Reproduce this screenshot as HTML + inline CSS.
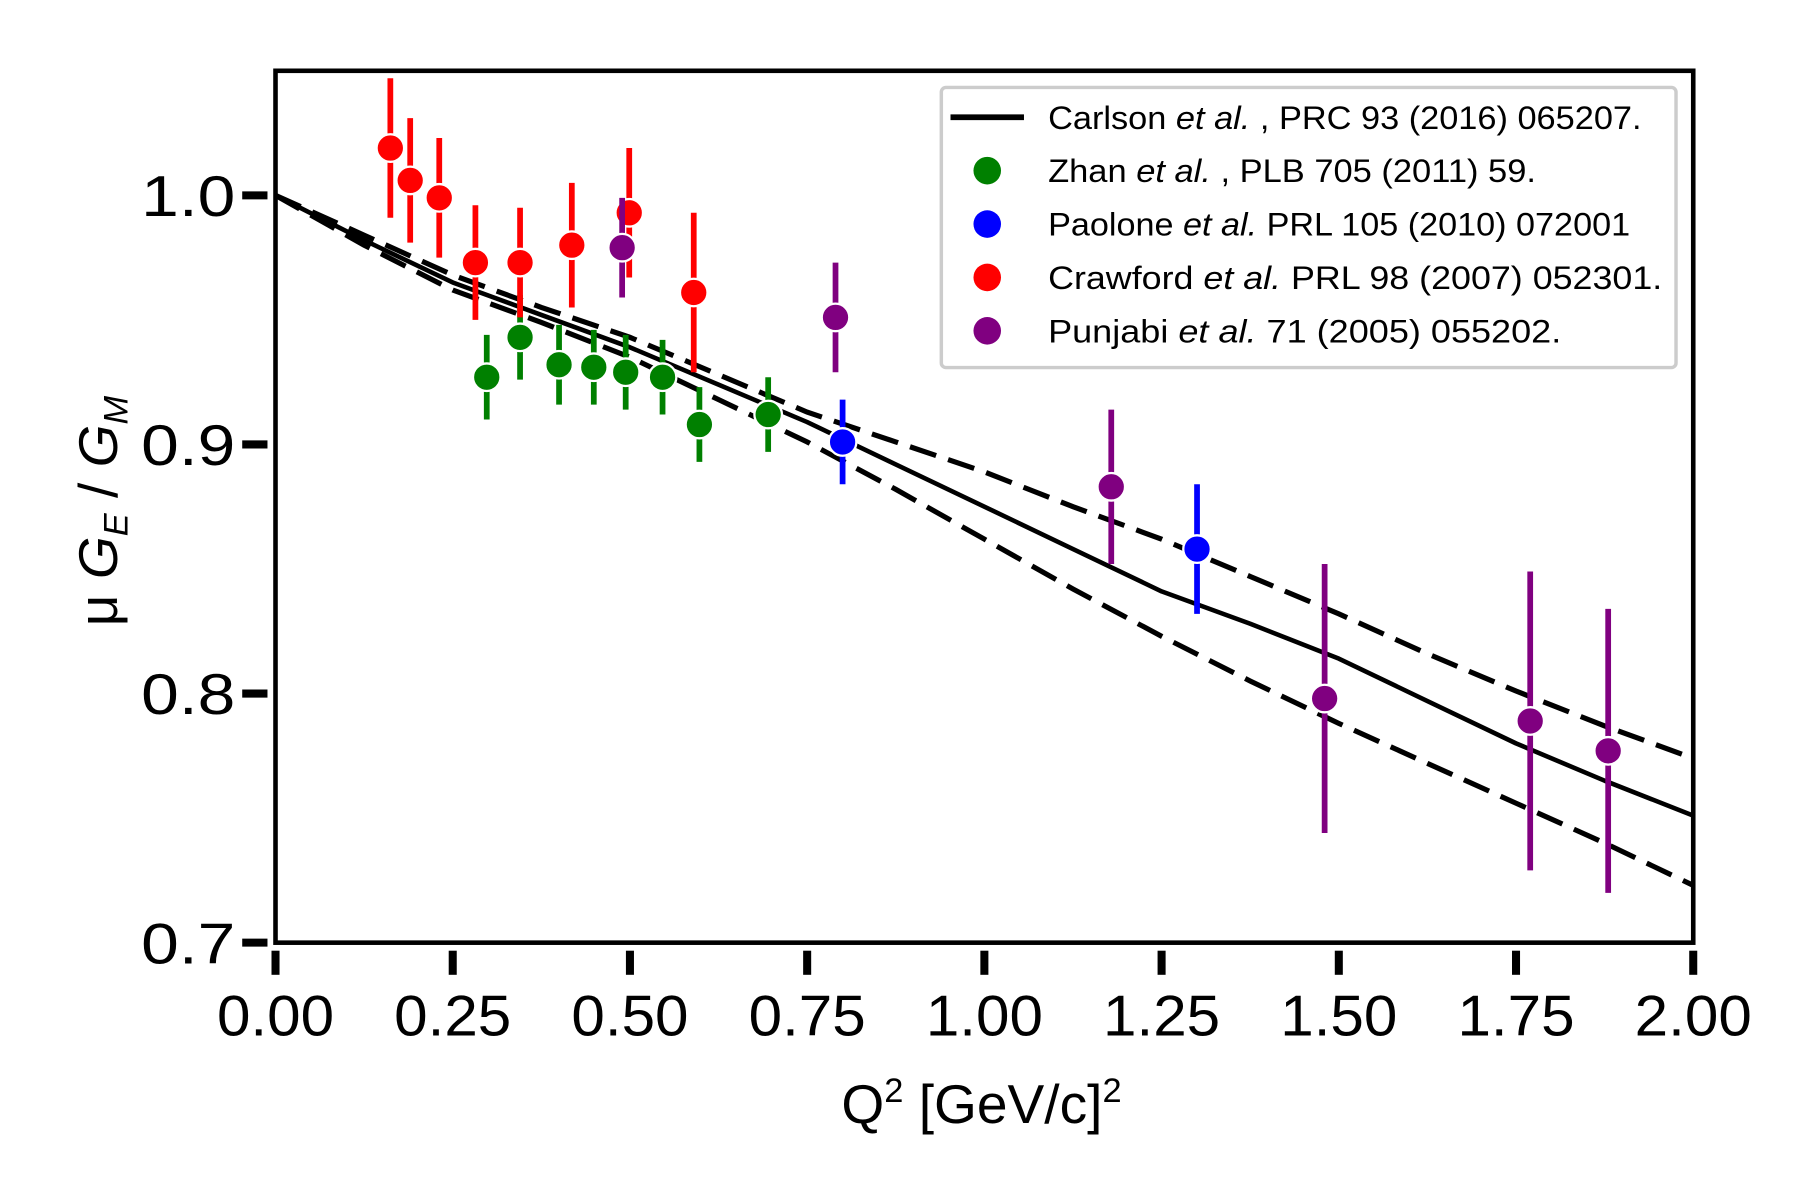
<!DOCTYPE html>
<html><head><meta charset="utf-8"><style>
html,body{margin:0;padding:0;background:#fff;}
svg{display:block;}
text{font-family:"Liberation Sans","DejaVu Sans",sans-serif;}
</style></head><body>
<svg id="chart" width="1800" height="1200" viewBox="0 0 1568 1045" xmlns="http://www.w3.org/2000/svg">
<rect x="0" y="0" width="1568" height="1045" fill="#fff"/>
<g id="plot"></g>
</svg>
<script>
const xTicks=[0,0.25,0.5,0.75,1.0,1.25,1.5,1.75,2.0];
const xTickLabels=["0.00","0.25","0.50","0.75","1.00","1.25","1.50","1.75","2.00"];
const yTicks=[0.7,0.8,0.9,1.0];
const yTickLabels=["0.7","0.8","0.9","1.0"];
const curveX=[0,0.125,0.25,0.375,0.5,0.625,0.75,0.875,1.0,1.125,1.25,1.375,1.5,1.625,1.75,1.875,2.0];
const curveMid=[1.0,0.982,0.965,0.952,0.939,0.924,0.909,0.892,0.875,0.858,0.841,0.828,0.814,0.797,0.780,0.765,0.751];
const curveUp=[1.0,0.984,0.968,0.955,0.943,0.928,0.913,0.901,0.889,0.875,0.862,0.847,0.832,0.816,0.801,0.787,0.774];
const curveLo=[1.0,0.980,0.962,0.949,0.935,0.918,0.901,0.882,0.862,0.842,0.823,0.805,0.788,0.772,0.756,0.740,0.723];
const crawfordX=[0.162,0.19,0.231,0.282,0.345,0.418,0.499,0.59];
const crawfordY=[1.019,1.006,0.999,0.973,0.973,0.980,0.993,0.961];
const crawfordE=[0.028,0.025,0.024,0.023,0.022,0.025,0.026,0.032];
const zhanX=[0.298,0.345,0.40,0.449,0.494,0.546,0.598,0.695];
const zhanY=[0.927,0.943,0.932,0.931,0.929,0.927,0.908,0.912];
const zhanE=[0.017,0.017,0.016,0.015,0.015,0.015,0.015,0.015];
const paoloneX=[0.80,1.30];
const paoloneY=[0.901,0.858];
const paoloneE=[0.017,0.026];
const punjabiX=[0.489,0.79,1.179,1.48,1.77,1.88];
const punjabiY=[0.979,0.951,0.883,0.798,0.789,0.777];
const punjabiE=[0.02,0.022,0.031,0.054,0.06,0.057];

const NS="http://www.w3.org/2000/svg";
const g=document.getElementById('plot');
const X0=240,X1=1475,Y0=821,Y1=61.5;
function sx(v){return X0+(v-0)/(2.0)*(X1-X0);}
function sy(v){return Y0-(v-0.7)/(0.35)*(Y0-Y1);}
function mk(tag,attrs,parent){const e=document.createElementNS(NS,tag);for(const k in attrs)e.setAttribute(k,attrs[k]);(parent||g).appendChild(e);return e;}

const fr=mk('rect',{x:X0,y:Y1,width:X1-X0,height:Y0-Y1,fill:'none',stroke:'#000','stroke-width':4});



xTicks.forEach((t,i)=>{
  const l=mk('line',{x1:sx(t),x2:sx(t),y1:828,y2:849,stroke:'#000','stroke-width':7});
  
  
  const tx=mk('text',{x:sx(t),y:902,'font-size':50,'text-anchor':'middle',fill:'#000',textLength:102,lengthAdjust:'spacingAndGlyphs'});
  tx.textContent=xTickLabels[i];
  
  
});
yTicks.forEach((t,i)=>{
  const l=mk('line',{x1:211,x2:233,y1:sy(t),y2:sy(t),stroke:'#000','stroke-width':7});
  
  
  const tx=mk('text',{x:205,y:sy(t)+18,'font-size':50,'text-anchor':'end',fill:'#000',textLength:82,lengthAdjust:'spacingAndGlyphs'});
  tx.textContent=yTickLabels[i];
  
  
});

const xt=mk('text',{x:855,y:978,'font-size':48,'text-anchor':'middle',fill:'#000'});
xt.innerHTML='Q<tspan dy="-18" font-size="30">2</tspan><tspan dy="18"> [GeV/c]</tspan><tspan dy="-18" font-size="30">2</tspan>';


const yt=mk('text',{x:0,y:0,'font-size':48,'text-anchor':'middle',fill:'#000',transform:'translate(102,445) rotate(-90)'});
yt.innerHTML='μ <tspan font-style="italic">G</tspan><tspan font-size="30" dy="9" font-style="italic">E</tspan><tspan dy="-9"> / </tspan><tspan font-style="italic">G</tspan><tspan font-size="30" dy="9" font-style="italic">M</tspan>';



function path(xs,ys){return xs.map((x,i)=>(i?'L':'M')+sx(x).toFixed(1)+' '+sy(ys[i]).toFixed(1)).join(' ');}
const cm=mk('path',{d:path(curveX,curveMid),fill:'none',stroke:'#000','stroke-width':4,'stroke-linejoin':'round'});


const cu=mk('path',{d:path(curveX,curveUp),fill:'none',stroke:'#000','stroke-width':4.5,'stroke-dasharray':'24 11'});


const cl=mk('path',{d:path(curveX,curveLo),fill:'none',stroke:'#000','stroke-width':4.5,'stroke-dasharray':'24 11'});



function series(xs,ys,es,color,name){
  const sg=mk('g',{});
  
  
  xs.forEach((x,i)=>{
    const eb=mk('line',{x1:sx(x),x2:sx(x),y1:sy(ys[i]-es[i]),y2:sy(ys[i]+es[i]),stroke:color,'stroke-width':5},sg);
    
    
    const c=mk('circle',{cx:sx(x),cy:sy(ys[i]),r:12,fill:color,stroke:'#fff','stroke-width':2},sg);
    
    
  });
}
series(zhanX,zhanY,zhanE,'#008000','zhan');
series(paoloneX,paoloneY,paoloneE,'#0000ff','paolone');
series(crawfordX,crawfordY,crawfordE,'#ff0000','crawford');
series(punjabiX,punjabiY,punjabiE,'#800080','punjabi');

const lg=mk('g',{});


const lb=mk('rect',{x:820,y:76,width:640,height:244,rx:4,fill:'#fff','fill-opacity':0.85,stroke:'#ccc','stroke-width':3},lg);


const entries=[
 ['line','#000','Carlson <tspan font-style="italic">et al.</tspan> , PRC 93 (2016) 065207.','legend-carlson',517],
 ['dot','#008000','Zhan <tspan font-style="italic">et al.</tspan> , PLB 705 (2011) 59.','legend-zhan',425],
 ['dot','#0000ff','Paolone <tspan font-style="italic">et al.</tspan>  PRL 105 (2010) 072001','legend-paolone',507],
 ['dot','#ff0000','Crawford <tspan font-style="italic">et al.</tspan>  PRL 98 (2007) 052301.','legend-crawford',535],
 ['dot','#800080','Punjabi <tspan font-style="italic">et al.</tspan>  71 (2005) 055202.','legend-punjabi',447]];
entries.forEach((e,i)=>{
  const y=102+i*46.5;
  const eg=mk('g',{},lg);
  
  
  if(e[0]==='line'){mk('line',{x1:828,x2:892,y1:y,y2:y,stroke:'#000','stroke-width':5},eg);}
  else{mk('circle',{cx:860,cy:y,r:12,fill:e[1]},eg);}
  const t=mk('text',{x:913,y:y+10,'font-size':28,fill:'#000',textLength:e[4],lengthAdjust:'spacingAndGlyphs'},eg);
  t.innerHTML=e[2];
});
</script>
</body></html>
